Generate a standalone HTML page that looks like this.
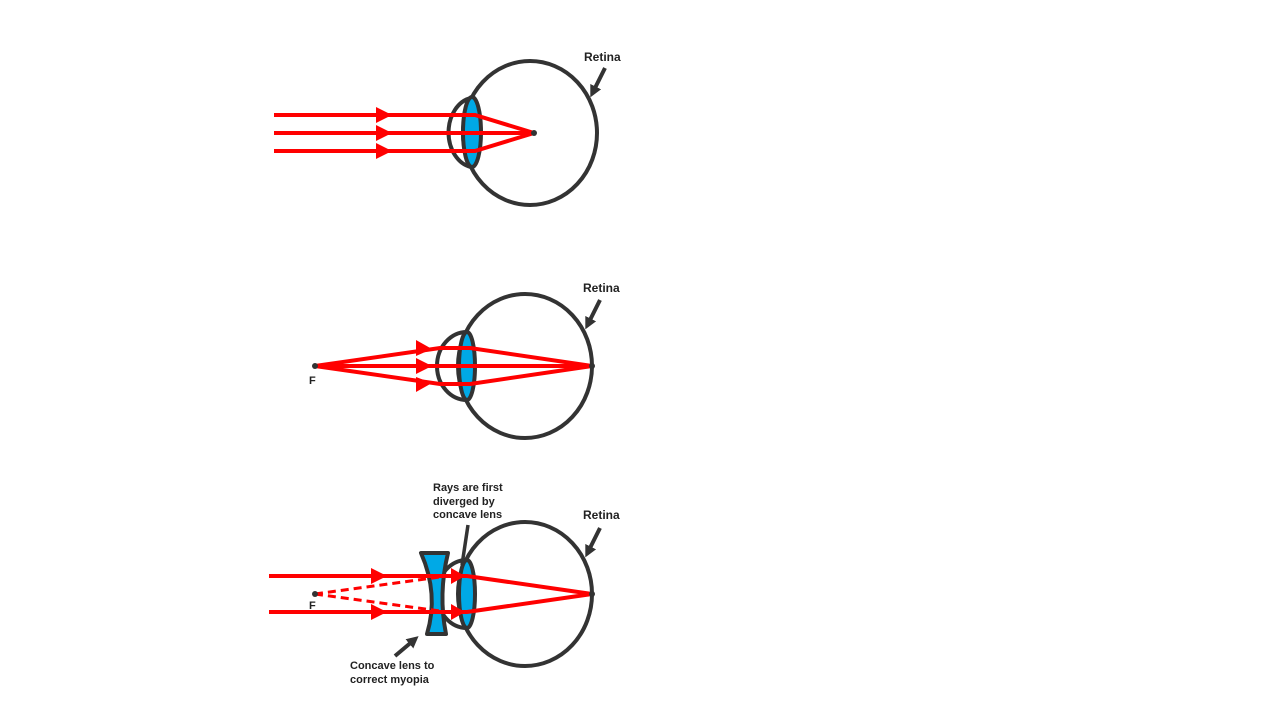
<!DOCTYPE html>
<html><head><style>body{margin:0;background:#fff}svg{display:block}text{font-family:"Liberation Sans",sans-serif;font-weight:bold;fill:#222}</style></head>
<body>
<svg width="1280" height="720" viewBox="0 0 1280 720">
<defs>
<marker id="ah" markerWidth="12" markerHeight="12" refX="6" refY="6" orient="auto" markerUnits="userSpaceOnUse"><path d="M0,0 L12,6 L0,12Z" fill="#333"/></marker>
</defs>
<g fill="none" stroke="#333" stroke-width="4">
<ellipse cx="530" cy="133" rx="67" ry="72"/>
<path d="M471,98 A27 35 0 0 0 471,167"/>
<ellipse cx="472" cy="132" rx="9" ry="35" fill="#00a9e6"/>
<ellipse cx="525" cy="366" rx="67" ry="72"/>
<path d="M467,332 A30 34 0 0 0 467,400"/>
<ellipse cx="467" cy="366" rx="8" ry="34" fill="#00a9e6"/>
<ellipse cx="525" cy="594" rx="67" ry="72"/>
<path d="M467,560 A30 34 0 0 0 467,628"/>
<ellipse cx="467" cy="594" rx="8" ry="34" fill="#00a9e6"/>
<path d="M421,553 L448,553 Q438,594 446,634 L427,634 Q439,594 421,553Z" fill="#00a9e6" stroke-linejoin="round"/>
</g>
<g fill="none" stroke="#f00" stroke-width="4">
<path d="M274,115 H475 L534,133 M274,133 H534 M274,151 H475 L534,133"/>
<path d="M315,366 L440,348 H470 L592,366 M315,366 H592 M315,366 L440,384 H470 L592,366"/>
<path d="M269,576 H467 L592,594 M269,612 H467 L592,594"/>
<path d="M315,594 L440,577 M315,594 L440,611" stroke-width="3" stroke-dasharray="8,5"/>
</g>
<g fill="#f00">
<path d="M376,107 L392,115 L376,123Z"/><path d="M376,125 L392,133 L376,141Z"/><path d="M376,143 L392,151 L376,159Z"/>
<path d="M416,340 L432,349 L416,356Z"/><path d="M416,358 L432,366 L416,374Z"/><path d="M416,377 L432,383 L416,392Z"/>
<path d="M371,568 L387,576 L371,584Z"/><path d="M371,604 L387,612 L371,620Z"/>
<path d="M451,568 L465,576 L451,584Z"/><path d="M451,604 L465,612 L451,620Z"/>
</g>
<g fill="#333"><circle cx="534" cy="133" r="3"/><circle cx="315" cy="366" r="3"/><circle cx="592" cy="366" r="3"/><circle cx="315" cy="594" r="3"/><circle cx="592" cy="594" r="3"/></g>
<g stroke="#333" stroke-width="4" fill="none">
<line x1="605" y1="68" x2="593" y2="92" marker-end="url(#ah)"/>
<line x1="600" y1="300" x2="588" y2="324" marker-end="url(#ah)"/>
<line x1="600" y1="528" x2="588" y2="552" marker-end="url(#ah)"/>
<line x1="468" y1="525" x2="462" y2="565" stroke-width="3.5"/>
<line x1="395" y1="656" x2="414" y2="640" marker-end="url(#ah)"/>
</g>
<text x="584" y="61" font-size="12">Retina</text>
<text x="583" y="292" font-size="12">Retina</text>
<text x="583" y="519" font-size="12">Retina</text>
<text x="309" y="384" font-size="11">F</text>
<text x="309" y="609" font-size="11">F</text>
<g font-size="11"><text x="433" y="491">Rays are first</text><text x="433" y="505">diverged by</text><text x="433" y="518">concave lens</text>
<text x="350" y="669">Concave lens to</text><text x="350" y="683">correct myopia</text></g>
</svg>
</body></html>
